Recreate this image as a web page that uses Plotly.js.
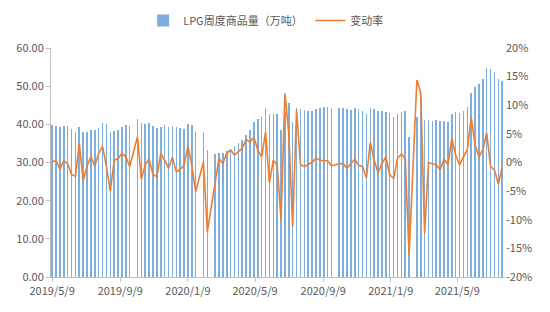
<!DOCTYPE html>
<html>
<head>
<meta charset="utf-8">
<script src="https://cdn.plot.ly/plotly-3.0.1.min.js"></script>
<style>
html,body{margin:0;padding:0;background:#fff;}
#chart{width:550px;height:312px;}
</style>
</head>
<body>
<div id="chart"></div>
<script>
// Weekly series starting 2019/5/9 (null = week with no data)
const startDate = '2019-05-09';
const volume = [
39.7,39.6,39.4,39.6,39.6,38.9,38.0,39.3,38.1,38.1,
38.4,38.4,39.1,40.4,40.0,38.1,38.2,38.5,39.3,39.7,
39.6,null,41.5,40.4,40.2,40.4,39.6,39.0,39.4,39.7,
39.4,39.6,39.3,39.1,38.9,40.0,39.8,38.0,null,38.0,
33.4,null,32.1,32.4,32.5,33.0,33.2,34.3,35.0,35.8,
37.2,38.6,40.5,41.5,41.9,44.2,42.8,42.8,42.8,38.6,
43.3,45.7,40.5,44.2,44.0,43.7,43.6,43.6,44.0,44.4,
44.5,44.5,44.4,null,44.4,44.2,43.9,43.7,44.2,43.9,
43.6,42.6,44.2,43.9,43.6,43.6,43.3,43.0,42.0,42.7,
43.3,43.6,36.6,null,41.9,46.9,41.1,41.1,41.0,41.1,
40.9,40.8,40.6,42.6,43.3,43.1,43.6,44.6,48.3,49.9,
50.6,51.9,54.7,54.4,53.6,51.8,51.4
];
const changeRate = [
0.1,0.4,-1.2,0.3,-0.2,-2.1,-2.4,3.4,-3.2,-0.6,
1.0,-0.6,1.6,2.8,-0.7,-5.0,0.4,0.7,1.6,1.0,
-0.7,null,4.5,-2.9,-0.4,0.6,-2.1,-2.5,1.6,0.4,
-1.0,0.9,-1.6,-1.2,-0.5,2.9,-0.5,-5.1,null,0.1,
-12.1,null,-3.9,0.7,-0.2,1.6,2.2,1.3,1.9,2.5,
4.0,3.6,4.4,2.2,1.0,5.3,-3.6,0.4,-0.4,-10.0,
12.1,5.1,-11.2,9.2,-0.4,-0.7,-0.3,0.0,0.8,0.4,
0.3,0.3,-0.6,null,-0.2,-0.2,-1.0,-0.2,0.6,-0.5,
-0.7,-2.7,3.5,0.4,-1.8,-0.2,1.0,-2.1,-2.8,0.7,
1.5,0.7,-16.2,null,14.4,12.1,-12.4,0.0,-0.2,-0.4,
-1.3,0.6,-0.4,4.2,1.3,-0.4,1.0,2.2,7.9,3.1,
1.0,2.2,5.2,-0.7,-1.3,-3.8,-0.7
];
const xTickVals = ['2019-05-09','2019-09-09','2020-01-09','2020-05-09','2020-09-09','2021-01-09','2021-05-09'];
const xTickText = ['2019/5/9','2019/9/9','2020/1/9','2020/5/9','2020/9/9','2021/1/9','2021/5/9'];
const leftTicks = [0,10,20,30,40,50,60];
const leftTickText = ['0.00','10.00','20.00','30.00','40.00','50.00','60.00'];
const rightTicks = [-20,-15,-10,-5,0,5,10,15,20];
const rightTickText = ['-20%','-15%','-10%','-5%','0%','5%','10%','15%','20%'];
const names = ['LPG周度商品量（万吨）','变动率'];

// weekly dates
const dates = [];
const d0 = new Date(startDate + 'T00:00:00Z');
for (let i = 0; i < volume.length; i++) {
  const d = new Date(d0.getTime() + i * 7 * 86400000);
  dates.push(d.toISOString().slice(0,10));
}

const font = {family: '"Noto Sans CJK SC", "Noto Sans", sans-serif', size: 11, color: '#595959'};

const traces = [
  {
    type: 'bar', name: names[0], x: dates, y: volume,
    marker: {color: '#7EAEDC', line: {width: 0}},
    width: 7 * 86400000 * 0.4,
    yaxis: 'y'
  },
  {
    type: 'scatter', mode: 'lines', name: names[1], x: dates, y: changeRate,
    line: {color: '#ED7D31', width: 1.6},
    connectgaps: true,
    yaxis: 'y2'
  }
];

const layout = {
  width: 550, height: 312,
  margin: {l: 51, r: 45, t: 48, b: 35, autoexpand: false},
  paper_bgcolor: '#fff', plot_bgcolor: '#fff',
  font: font,
  showlegend: true,
  legend: {orientation: 'h', x: 0.203, xanchor: 'left', y: 1.12, yanchor: 'middle',
           font: {family: font.family, size: 11, color: '#595959'}, bgcolor: 'rgba(0,0,0,0)',
           itemwidth: 30, entrywidth: 122, entrywidthmode: 'pixels'},
  bargap: 0,
  xaxis: {
    type: 'date', range: ['2019-05-07', '2021-08-03'],
    tickmode: 'array', tickvals: xTickVals, ticktext: xTickText,
    showgrid: false, zeroline: false,
    showline: true, linecolor: '#BFBFBF', linewidth: 1,
    ticks: 'outside', ticklen: 4, tickcolor: '#BFBFBF',
    tickfont: font
  },
  yaxis: {
    range: [0, 60], tickmode: 'array', tickvals: leftTicks, ticktext: leftTickText,
    showgrid: false, zeroline: false,
    showline: true, linecolor: '#BFBFBF', linewidth: 1,
    ticks: 'outside', ticklen: 4, tickcolor: '#BFBFBF',
    tickfont: font
  },
  yaxis2: {
    overlaying: 'y', side: 'right',
    range: [-20, 20], tickmode: 'array', tickvals: rightTicks, ticktext: rightTickText,
    showgrid: false, zeroline: false, showline: false, ticks: '',
    tickfont: font
  }
};

Plotly.newPlot('chart', traces, layout, {staticPlot: true, displayModeBar: false});
</script>
</body>
</html>
